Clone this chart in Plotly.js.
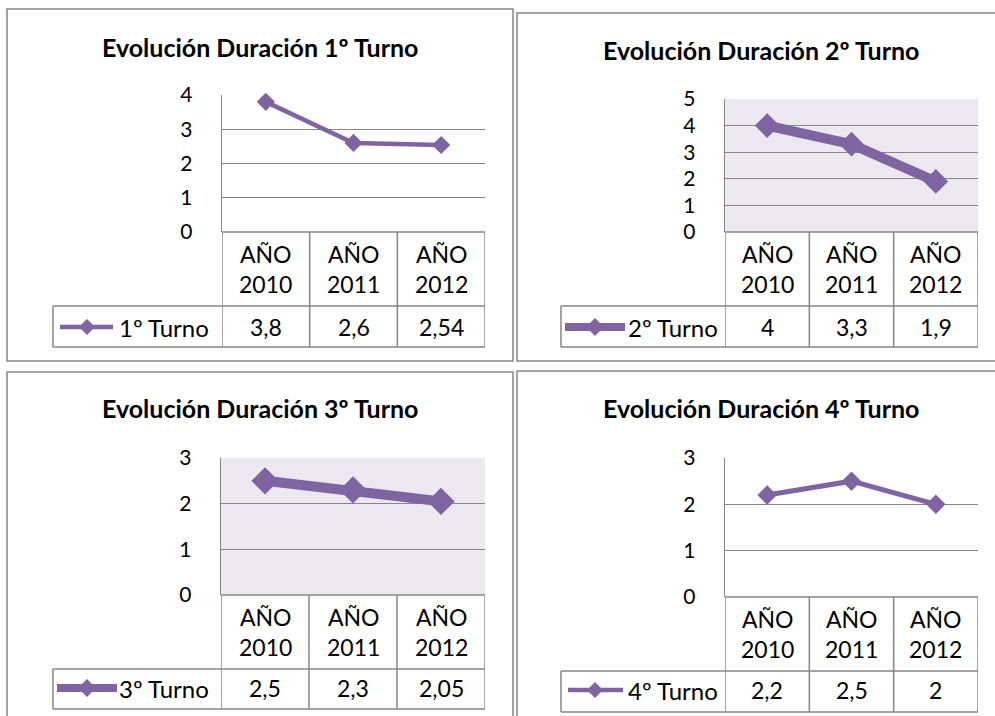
<!DOCTYPE html>
<html>
<head>
<meta charset="utf-8">
<script src="https://cdn.plot.ly/plotly-3.0.1.min.js"></script>
<style>html,body{margin:0;padding:0;background:#fff;}#chart{width:995px;height:716px;}</style>
</head>
<body>
<div id="chart"></div>
<script>
// ---- data ----
const categories = ['AÑO 2010', 'AÑO 2011', 'AÑO 2012'];
const titles = ['Evolución Duración 1º Turno', 'Evolución Duración 2º Turno', 'Evolución Duración 3º Turno', 'Evolución Duración 4º Turno'];
const seriesNames = ['1º Turno', '2º Turno', '3º Turno', '4º Turno'];
const turno1 = [3.8, 2.6, 2.54];
const turno2 = [4, 3.3, 1.9];
const turno3 = [2.5, 2.3, 2.05];
const turno4 = [2.2, 2.5, 2];
const yMax = [4, 5, 3, 3];
const series = [turno1, turno2, turno3, turno4];

// ---- layout / style ----
const W = 995, H = 716;
const px = x => x / W;
const py = y => 1 - y / H;
const COLOR = '#8064A2';
const GRID = '#868686';
const FONT = 'Lato, "Liberation Sans", sans-serif';

const panels = [
  {box:[7,9,513,361],  plot:[222,95,485,232],  tableLeft:53,  row1:306, row2:347, titleX:260, titleY:47,  bg:'#ffffff', lw:4.5, ms:14, key:[60,113,87], keyW:4.5, keyD:8, textX:117, rowY:327},
  {box:[517,13,1000,361], plot:[725,99,978,232], tableLeft:561, row1:306, row2:347, titleX:761, titleY:50,  bg:'#EBE9EF', lw:10, ms:19, key:[565,625,595], keyW:8, keyD:9, textX:626, rowY:327},
  {box:[7,372,513,720], plot:[221,458,485,595], tableLeft:53,  row1:669, row2:709, titleX:260, titleY:408, bg:'#EBE9EF', lw:10, ms:21, key:[57,117,87], keyW:8, keyD:9, textX:117, rowY:688},
  {box:[517,371,1000,720], plot:[725,458,978,597], tableLeft:561, row1:671, row2:712, titleX:761, titleY:408, bg:'#ffffff', lw:5, ms:15, key:[568,623,595], keyW:4.5, keyD:8, textX:626, rowY:690}
];

const traces = [];
const shapes = [];
const annotations = [];
const layout = {
  width: W, height: H,
  margin: {l:0, r:0, t:0, b:0},
  paper_bgcolor: '#ffffff',
  plot_bgcolor: 'rgba(0,0,0,0)',
  showlegend: false,
  font: {family: FONT, color: '#000'},
  shapes: shapes,
  annotations: annotations
};

const fmt = v => String(v).replace('.', ',');

panels.forEach((p, i) => {
  const n = i + 1;
  const xa = n === 1 ? 'x' : 'x' + n;
  const ya = n === 1 ? 'y' : 'y' + n;
  const xKey = n === 1 ? 'xaxis' : 'xaxis' + n;
  const yKey = n === 1 ? 'yaxis' : 'yaxis' + n;
  const [pl, pt, pr, pb] = p.plot;

  layout[xKey] = {
    domain: [px(pl), px(pr)], anchor: ya, type: 'category',
    range: [-0.5, 2.5], showticklabels: false, showgrid: false,
    zeroline: false, showline: false, ticks: '', fixedrange: true
  };
  layout[yKey] = {
    domain: [py(pb), py(pt)], anchor: xa, range: [0, yMax[i]], dtick: 1,
    showgrid: true, gridcolor: GRID, gridwidth: 1.3,
    zeroline: false, showline: true, linecolor: GRID, linewidth: 1.3,
    ticks: '', ticklabelstandoff: 24,
    tickfont: {family: FONT, size: 21, color: '#000'}, fixedrange: true
  };

  traces.push({
    x: categories, y: series[i], xaxis: xa, yaxis: ya,
    type: 'scatter', mode: 'lines+markers', cliponaxis: false,
    line: {color: COLOR, width: p.lw},
    marker: {symbol: 'diamond', size: p.ms, color: COLOR},
    name: seriesNames[i], hoverinfo: 'skip'
  });

  // plot background
  shapes.push({type:'rect', layer:'below', xref: xa + ' domain', yref: ya + ' domain',
    x0:0, x1:1, y0:0, y1:1, fillcolor:p.bg, line:{width:0}});

  // panel border
  const [bl, bt, br, bb] = p.box;
  shapes.push({type:'rect', xref:'paper', yref:'paper', x0:px(bl), x1:px(br), y0:py(bb), y1:py(bt),
    line:{color:GRID, width:1.5}, fillcolor:'rgba(0,0,0,0)'});

  // data table lines
  const lineStyle = {color: GRID, width: 1.5};
  shapes.push({type:'line', xref:'paper', yref:'paper', x0:px(pl), x1:px(pr), y0:py(pb), y1:py(pb), line:lineStyle});
  shapes.push({type:'line', xref:'paper', yref:'paper', x0:px(p.tableLeft), x1:px(pr), y0:py(p.row1), y1:py(p.row1), line:lineStyle});
  shapes.push({type:'line', xref:'paper', yref:'paper', x0:px(p.tableLeft), x1:px(pr), y0:py(p.row2), y1:py(p.row2), line:lineStyle});
  shapes.push({type:'line', xref:'paper', yref:'paper', x0:px(p.tableLeft), x1:px(p.tableLeft), y0:py(p.row1), y1:py(p.row2), line:lineStyle});
  [-0.5, 0.5, 1.5, 2.5].forEach(xv => {
    shapes.push({type:'line', xref:xa, yref:'paper', x0:xv, x1:xv, y0:py(pb), y1:py(p.row2), line:lineStyle});
  });

  // legend key
  const [k0, k1, kd] = p.key;
  shapes.push({type:'line', xref:'paper', yref:'paper', x0:px(k0), x1:px(k1), y0:py(p.rowY), y1:py(p.rowY),
    line:{color:COLOR, width:p.keyW}});
  const d = p.keyD;
  shapes.push({type:'path', xref:'paper', yref:'paper',
    path: `M ${px(kd)} ${py(p.rowY - d)} L ${px(kd + d)} ${py(p.rowY)} L ${px(kd)} ${py(p.rowY + d)} L ${px(kd - d)} ${py(p.rowY)} Z`,
    fillcolor: COLOR, line:{width:0}});

  // title
  annotations.push({text: '<b>' + titles[i] + '</b>', xref:'paper', yref:'paper',
    x: px(p.titleX), y: py(p.titleY), xanchor:'center', yanchor:'middle', showarrow:false,
    font:{family: FONT, size: 25, color:'#000'}});

  // header cells (categories)
  categories.forEach(c => {
    annotations.push({text: c.replace(' ', '<br>'), xref: xa, yref:'paper', x: c,
      y: py((pb + p.row1) / 2), xanchor:'center', yanchor:'middle', showarrow:false,
      font:{family: FONT, size: 23, color:'#000'}});
  });
  // value cells
  series[i].forEach((v, j) => {
    annotations.push({text: fmt(v), xref: xa, yref:'paper', x: categories[j],
      y: py(p.rowY), xanchor:'center', yanchor:'middle', showarrow:false,
      font:{family: FONT, size: 23, color:'#000'}});
  });
  // series name
  annotations.push({text: seriesNames[i], xref:'paper', yref:'paper', x: px(p.textX), y: py(p.rowY),
    xanchor:'left', yanchor:'middle', showarrow:false, font:{family: FONT, size: 24, color:'#000'}});
});

Plotly.newPlot('chart', traces, layout, {staticPlot: true, displayModeBar: false});
</script>
</body>
</html>
